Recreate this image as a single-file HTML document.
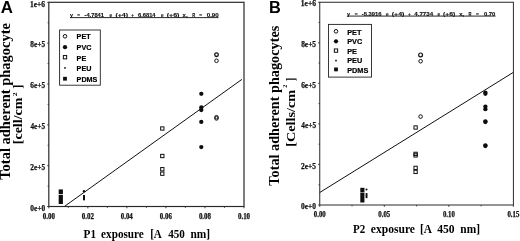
<!DOCTYPE html><html><head><meta charset="utf-8"><style>html,body{margin:0;padding:0;background:#fff;}svg{display:block;}</style></head><body>
<svg width="520" height="241" viewBox="0 0 520 241">
<rect width="520" height="241" fill="#fff"/>
<defs><filter id="b" x="0" y="0" width="1" height="1"><feGaussianBlur stdDeviation="0.4"/></filter></defs><g filter="url(#b)">
<rect x="48.8" y="2.3" width="195.2" height="204.2" fill="none" stroke="#2a2a2a" stroke-width="1.2"/>
<line x1="47.2" y1="206.5" x2="48.8" y2="206.5" stroke="#2a2a2a" stroke-width="0.9"/>
<line x1="47.6" y1="186.08" x2="48.8" y2="186.08" stroke="#2a2a2a" stroke-width="0.9"/>
<line x1="47.2" y1="165.66" x2="48.8" y2="165.66" stroke="#2a2a2a" stroke-width="0.9"/>
<line x1="47.6" y1="145.24" x2="48.8" y2="145.24" stroke="#2a2a2a" stroke-width="0.9"/>
<line x1="47.2" y1="124.82" x2="48.8" y2="124.82" stroke="#2a2a2a" stroke-width="0.9"/>
<line x1="47.6" y1="104.4" x2="48.8" y2="104.4" stroke="#2a2a2a" stroke-width="0.9"/>
<line x1="47.2" y1="83.98" x2="48.8" y2="83.98" stroke="#2a2a2a" stroke-width="0.9"/>
<line x1="47.6" y1="63.56" x2="48.8" y2="63.56" stroke="#2a2a2a" stroke-width="0.9"/>
<line x1="47.2" y1="43.14" x2="48.8" y2="43.14" stroke="#2a2a2a" stroke-width="0.9"/>
<line x1="47.6" y1="22.72" x2="48.8" y2="22.72" stroke="#2a2a2a" stroke-width="0.9"/>
<line x1="47.2" y1="2.3" x2="48.8" y2="2.3" stroke="#2a2a2a" stroke-width="0.9"/>
<text x="30.32" y="210.7" font-family='"Liberation Serif", serif' font-size="7.6" font-weight="bold" textLength="14.76" lengthAdjust="spacingAndGlyphs" fill="#111" stroke="#111" stroke-width="0.25">0e+0</text>
<text x="30.29" y="169.86" font-family='"Liberation Serif", serif' font-size="7.6" font-weight="bold" textLength="14.78" lengthAdjust="spacingAndGlyphs" fill="#111" stroke="#111" stroke-width="0.25">2e+5</text>
<text x="30.5" y="129.02" font-family='"Liberation Serif", serif' font-size="7.6" font-weight="bold" textLength="14.56" lengthAdjust="spacingAndGlyphs" fill="#111" stroke="#111" stroke-width="0.25">4e+5</text>
<text x="30.35" y="88.18" font-family='"Liberation Serif", serif' font-size="7.6" font-weight="bold" textLength="14.72" lengthAdjust="spacingAndGlyphs" fill="#111" stroke="#111" stroke-width="0.25">6e+5</text>
<text x="30.36" y="47.34" font-family='"Liberation Serif", serif' font-size="7.6" font-weight="bold" textLength="14.71" lengthAdjust="spacingAndGlyphs" fill="#111" stroke="#111" stroke-width="0.25">8e+5</text>
<text x="30" y="6.5" font-family='"Liberation Serif", serif' font-size="7.6" font-weight="bold" textLength="15.02" lengthAdjust="spacingAndGlyphs" fill="#111" stroke="#111" stroke-width="0.25">1e+6</text>
<line x1="48.8" y1="206.5" x2="48.8" y2="208.3" stroke="#2a2a2a" stroke-width="0.9"/>
<line x1="68.32" y1="206.5" x2="68.32" y2="207.8" stroke="#2a2a2a" stroke-width="0.9"/>
<line x1="87.84" y1="206.5" x2="87.84" y2="208.3" stroke="#2a2a2a" stroke-width="0.9"/>
<line x1="107.36" y1="206.5" x2="107.36" y2="207.8" stroke="#2a2a2a" stroke-width="0.9"/>
<line x1="126.88" y1="206.5" x2="126.88" y2="208.3" stroke="#2a2a2a" stroke-width="0.9"/>
<line x1="146.4" y1="206.5" x2="146.4" y2="207.8" stroke="#2a2a2a" stroke-width="0.9"/>
<line x1="165.92" y1="206.5" x2="165.92" y2="208.3" stroke="#2a2a2a" stroke-width="0.9"/>
<line x1="185.44" y1="206.5" x2="185.44" y2="207.8" stroke="#2a2a2a" stroke-width="0.9"/>
<line x1="204.96" y1="206.5" x2="204.96" y2="208.3" stroke="#2a2a2a" stroke-width="0.9"/>
<line x1="224.48" y1="206.5" x2="224.48" y2="207.8" stroke="#2a2a2a" stroke-width="0.9"/>
<line x1="244" y1="206.5" x2="244" y2="208.3" stroke="#2a2a2a" stroke-width="0.9"/>
<text x="42.74" y="218.5" font-family='"Liberation Serif", serif' font-size="7.4" font-weight="bold" textLength="12.13" lengthAdjust="spacingAndGlyphs" fill="#111" stroke="#111" stroke-width="0.25">0.00</text>
<text x="81.78" y="218.5" font-family='"Liberation Serif", serif' font-size="7.4" font-weight="bold" textLength="12.16" lengthAdjust="spacingAndGlyphs" fill="#111" stroke="#111" stroke-width="0.25">0.02</text>
<text x="120.82" y="218.5" font-family='"Liberation Serif", serif' font-size="7.4" font-weight="bold" textLength="11.99" lengthAdjust="spacingAndGlyphs" fill="#111" stroke="#111" stroke-width="0.25">0.04</text>
<text x="159.86" y="218.5" font-family='"Liberation Serif", serif' font-size="7.4" font-weight="bold" textLength="12.06" lengthAdjust="spacingAndGlyphs" fill="#111" stroke="#111" stroke-width="0.25">0.06</text>
<text x="198.9" y="218.5" font-family='"Liberation Serif", serif' font-size="7.4" font-weight="bold" textLength="12.09" lengthAdjust="spacingAndGlyphs" fill="#111" stroke="#111" stroke-width="0.25">0.08</text>
<text x="237.94" y="218.5" font-family='"Liberation Serif", serif' font-size="7.4" font-weight="bold" textLength="12.13" lengthAdjust="spacingAndGlyphs" fill="#111" stroke="#111" stroke-width="0.25">0.10</text>
<text x="0.78" y="12.5" font-family='"Liberation Sans", sans-serif' font-size="17" font-weight="bold" textLength="12.16" lengthAdjust="spacingAndGlyphs" >A</text>
<text transform="translate(10,179.7) rotate(-90)" x="0" y="0" font-family='"Liberation Serif", serif' font-size="14" font-weight="bold" textLength="156.6" lengthAdjust="spacingAndGlyphs">Total adherent phagocyte</text>
<text transform="translate(21.6,0) rotate(-90)" x="-144.24" y="0" font-family='"Liberation Serif", serif' font-size="12" font-weight="bold" textLength="46.68" lengthAdjust="spacingAndGlyphs">[cell/cm</text>
<text transform="translate(16.9,0) rotate(-90)" x="-96.32" y="0" font-family='"Liberation Serif", serif' font-size="6" font-weight="bold" textLength="3.86" lengthAdjust="spacingAndGlyphs">2</text>
<text transform="translate(21.6,0) rotate(-90)" x="-88.74" y="0" font-family='"Liberation Serif", serif' font-size="12" font-weight="bold" textLength="4.04" lengthAdjust="spacingAndGlyphs">]</text>
<text x="83.61" y="238" font-family='"Liberation Serif", serif' font-size="13" font-weight="bold" textLength="12.47" lengthAdjust="spacingAndGlyphs" >P1</text>
<text x="101.12" y="238" font-family='"Liberation Serif", serif' font-size="13" font-weight="bold" textLength="42.67" lengthAdjust="spacingAndGlyphs" >exposure</text>
<text x="150.18" y="238" font-family='"Liberation Serif", serif' font-size="13" font-weight="bold" textLength="11.6" lengthAdjust="spacingAndGlyphs" >[A</text>
<text x="168.25" y="238" font-family='"Liberation Serif", serif' font-size="13" font-weight="bold" textLength="16.68" lengthAdjust="spacingAndGlyphs" >450</text>
<text x="190.39" y="238" font-family='"Liberation Serif", serif' font-size="13" font-weight="bold" textLength="19.65" lengthAdjust="spacingAndGlyphs" >nm]</text>
<text x="70.1" y="16.9" font-family='"Liberation Sans", sans-serif' font-size="5.9" font-weight="bold" textLength="3" lengthAdjust="spacingAndGlyphs" fill="#111" stroke="#111" stroke-width="0.15">y</text>
<text x="77.3" y="16.9" font-family='"Liberation Sans", sans-serif' font-size="5.9" font-weight="bold" textLength="2.8" lengthAdjust="spacingAndGlyphs" fill="#111" stroke="#111" stroke-width="0.15">=</text>
<text x="84.6" y="16.9" font-family='"Liberation Sans", sans-serif' font-size="5.9" font-weight="bold" textLength="19.3" lengthAdjust="spacingAndGlyphs" fill="#111" stroke="#111" stroke-width="0.15">-4.7841</text>
<text x="109.6" y="16.9" font-family='"Liberation Sans", sans-serif' font-size="5.9" font-weight="bold" textLength="2.6" lengthAdjust="spacingAndGlyphs" fill="#111" stroke="#111" stroke-width="0.15">e</text>
<text x="115.4" y="16.9" font-family='"Liberation Sans", sans-serif' font-size="5.9" font-weight="bold" textLength="12.7" lengthAdjust="spacingAndGlyphs" fill="#111" stroke="#111" stroke-width="0.15">(+4)</text>
<text x="131.3" y="16.9" font-family='"Liberation Sans", sans-serif' font-size="5.9" font-weight="bold" textLength="2.7" lengthAdjust="spacingAndGlyphs" fill="#111" stroke="#111" stroke-width="0.15">+</text>
<text x="138" y="16.9" font-family='"Liberation Sans", sans-serif' font-size="5.9" font-weight="bold" textLength="17.5" lengthAdjust="spacingAndGlyphs" fill="#111" stroke="#111" stroke-width="0.15">6.6814</text>
<text x="161.1" y="16.9" font-family='"Liberation Sans", sans-serif' font-size="5.9" font-weight="bold" textLength="2.6" lengthAdjust="spacingAndGlyphs" fill="#111" stroke="#111" stroke-width="0.15">e</text>
<text x="166.7" y="16.9" font-family='"Liberation Sans", sans-serif' font-size="5.9" font-weight="bold" textLength="12.8" lengthAdjust="spacingAndGlyphs" fill="#111" stroke="#111" stroke-width="0.15">(+6)</text>
<text x="182.6" y="16.9" font-family='"Liberation Sans", sans-serif' font-size="5.9" font-weight="bold" textLength="5" lengthAdjust="spacingAndGlyphs" fill="#111" stroke="#111" stroke-width="0.15">x,</text>
<text x="192.3" y="16.9" font-family='"Liberation Sans", sans-serif' font-size="5.9" font-weight="bold" textLength="3" lengthAdjust="spacingAndGlyphs" fill="#111" stroke="#111" stroke-width="0.15">R</text>
<text x="199.2" y="16.9" font-family='"Liberation Sans", sans-serif' font-size="5.9" font-weight="bold" textLength="2.8" lengthAdjust="spacingAndGlyphs" fill="#111" stroke="#111" stroke-width="0.15">=</text>
<text x="206.7" y="16.9" font-family='"Liberation Sans", sans-serif' font-size="5.9" font-weight="bold" textLength="12.1" lengthAdjust="spacingAndGlyphs" fill="#111" stroke="#111" stroke-width="0.15">0.90</text>
<line x1="70" y1="17.6" x2="218.6" y2="17.6" stroke="#111" stroke-width="0.9"/>
<rect x="59.6" y="30" width="40.7" height="55.2" fill="none" stroke="#222" stroke-width="0.9"/>
<circle cx="65" cy="36.3" r="1.8" fill="none" stroke="#111" stroke-width="1.0"/>
<text x="76.6" y="39.49" font-family='"Liberation Sans", sans-serif' font-size="7.2" font-weight="bold" stroke="#000" stroke-width="0.2">PET</text>
<circle cx="65" cy="47.2" r="2.15" fill="#111"/>
<text x="76.6" y="49.79" font-family='"Liberation Sans", sans-serif' font-size="7.2" font-weight="bold" stroke="#000" stroke-width="0.2">PVC</text>
<rect x="63.35" y="55.55" width="3.3" height="3.3" fill="none" stroke="#111" stroke-width="1.0"/>
<text x="76.6" y="60.59" font-family='"Liberation Sans", sans-serif' font-size="7.2" font-weight="bold" stroke="#000" stroke-width="0.2">PE</text>
<rect x="64.2" y="67.1" width="1.6" height="1.6" fill="#111"/>
<text x="76.6" y="71.09" font-family='"Liberation Sans", sans-serif' font-size="7.2" font-weight="bold" stroke="#000" stroke-width="0.2">PEU</text>
<rect x="63.1" y="76.85" width="3.8" height="3.8" fill="#111"/>
<text x="76.6" y="81.79" font-family='"Liberation Sans", sans-serif' font-size="7.2" font-weight="bold" stroke="#000" stroke-width="0.2">PDMS</text>
<line x1="64.9" y1="206.1" x2="241.9" y2="79.4" stroke="#111" stroke-width="1"/>
<rect x="58.7" y="189.4" width="4.2" height="4.6" fill="#111"/>
<rect x="58.7" y="194.8" width="4.2" height="9.2" fill="#111"/>
<circle cx="84" cy="191.2" r="1.2" fill="#111"/>
<rect x="83" y="195" width="2" height="5.3" fill="#111"/>
<rect x="160.65" y="126.85" width="3.3" height="3.3" fill="none" stroke="#111" stroke-width="1.0"/>
<rect x="160.65" y="154.35" width="3.3" height="3.3" fill="none" stroke="#111" stroke-width="1.0"/>
<rect x="160.65" y="167.55" width="3.3" height="3.3" fill="none" stroke="#111" stroke-width="1.0"/>
<rect x="160.65" y="172.05" width="3.3" height="3.3" fill="none" stroke="#111" stroke-width="1.0"/>
<circle cx="201.3" cy="93.8" r="2.15" fill="#111"/>
<circle cx="201.3" cy="107.5" r="2.15" fill="#111"/>
<circle cx="201.3" cy="110" r="2.15" fill="#111"/>
<circle cx="201.3" cy="121.9" r="2.15" fill="#111"/>
<circle cx="201.3" cy="147.1" r="2.15" fill="#111"/>
<circle cx="216.5" cy="54.7" r="1.8" fill="none" stroke="#111" stroke-width="1.3"/>
<circle cx="216.5" cy="60.8" r="1.8" fill="none" stroke="#111" stroke-width="1.0"/>
<circle cx="216.5" cy="117.2" r="1.8" fill="none" stroke="#111" stroke-width="1.0"/>
<circle cx="216.5" cy="118.4" r="1.8" fill="none" stroke="#111" stroke-width="1.0"/>
<rect x="319.75" y="2.25" width="193.65" height="202.75" fill="none" stroke="#2a2a2a" stroke-width="1.0"/>
<line x1="318.15" y1="205" x2="319.75" y2="205" stroke="#2a2a2a" stroke-width="0.9"/>
<line x1="318.55" y1="184.72" x2="319.75" y2="184.72" stroke="#2a2a2a" stroke-width="0.9"/>
<line x1="318.15" y1="164.45" x2="319.75" y2="164.45" stroke="#2a2a2a" stroke-width="0.9"/>
<line x1="318.55" y1="144.18" x2="319.75" y2="144.18" stroke="#2a2a2a" stroke-width="0.9"/>
<line x1="318.15" y1="123.9" x2="319.75" y2="123.9" stroke="#2a2a2a" stroke-width="0.9"/>
<line x1="318.55" y1="103.62" x2="319.75" y2="103.62" stroke="#2a2a2a" stroke-width="0.9"/>
<line x1="318.15" y1="83.35" x2="319.75" y2="83.35" stroke="#2a2a2a" stroke-width="0.9"/>
<line x1="318.55" y1="63.07" x2="319.75" y2="63.07" stroke="#2a2a2a" stroke-width="0.9"/>
<line x1="318.15" y1="42.8" x2="319.75" y2="42.8" stroke="#2a2a2a" stroke-width="0.9"/>
<line x1="318.55" y1="22.53" x2="319.75" y2="22.53" stroke="#2a2a2a" stroke-width="0.9"/>
<line x1="318.15" y1="2.25" x2="319.75" y2="2.25" stroke="#2a2a2a" stroke-width="0.9"/>
<text x="301.12" y="209.2" font-family='"Liberation Serif", serif' font-size="7.6" font-weight="bold" textLength="14.97" lengthAdjust="spacingAndGlyphs" fill="#111" stroke="#111" stroke-width="0.25">0e+0</text>
<text x="301.09" y="168.65" font-family='"Liberation Serif", serif' font-size="7.6" font-weight="bold" textLength="14.99" lengthAdjust="spacingAndGlyphs" fill="#111" stroke="#111" stroke-width="0.25">2e+5</text>
<text x="301.3" y="128.1" font-family='"Liberation Serif", serif' font-size="7.6" font-weight="bold" textLength="14.77" lengthAdjust="spacingAndGlyphs" fill="#111" stroke="#111" stroke-width="0.25">4e+5</text>
<text x="301.15" y="87.55" font-family='"Liberation Serif", serif' font-size="7.6" font-weight="bold" textLength="14.92" lengthAdjust="spacingAndGlyphs" fill="#111" stroke="#111" stroke-width="0.25">6e+5</text>
<text x="301.15" y="47" font-family='"Liberation Serif", serif' font-size="7.6" font-weight="bold" textLength="14.92" lengthAdjust="spacingAndGlyphs" fill="#111" stroke="#111" stroke-width="0.25">8e+5</text>
<text x="300.79" y="6.45" font-family='"Liberation Serif", serif' font-size="7.6" font-weight="bold" textLength="15.23" lengthAdjust="spacingAndGlyphs" fill="#111" stroke="#111" stroke-width="0.25">1e+6</text>
<line x1="319.75" y1="205" x2="319.75" y2="206.8" stroke="#2a2a2a" stroke-width="0.9"/>
<line x1="352.02" y1="205" x2="352.02" y2="206.3" stroke="#2a2a2a" stroke-width="0.9"/>
<line x1="384.3" y1="205" x2="384.3" y2="206.8" stroke="#2a2a2a" stroke-width="0.9"/>
<line x1="416.57" y1="205" x2="416.57" y2="206.3" stroke="#2a2a2a" stroke-width="0.9"/>
<line x1="448.85" y1="205" x2="448.85" y2="206.8" stroke="#2a2a2a" stroke-width="0.9"/>
<line x1="481.12" y1="205" x2="481.12" y2="206.3" stroke="#2a2a2a" stroke-width="0.9"/>
<line x1="513.4" y1="205" x2="513.4" y2="206.8" stroke="#2a2a2a" stroke-width="0.9"/>
<text x="313.79" y="217.1" font-family='"Liberation Serif", serif' font-size="7.4" font-weight="bold" textLength="11.92" lengthAdjust="spacingAndGlyphs" fill="#111" stroke="#111" stroke-width="0.25">0.00</text>
<text x="378.34" y="217.1" font-family='"Liberation Serif", serif' font-size="7.4" font-weight="bold" textLength="11.91" lengthAdjust="spacingAndGlyphs" fill="#111" stroke="#111" stroke-width="0.25">0.05</text>
<text x="442.89" y="217.1" font-family='"Liberation Serif", serif' font-size="7.4" font-weight="bold" textLength="11.92" lengthAdjust="spacingAndGlyphs" fill="#111" stroke="#111" stroke-width="0.25">0.10</text>
<text x="507.44" y="217.1" font-family='"Liberation Serif", serif' font-size="7.4" font-weight="bold" textLength="11.91" lengthAdjust="spacingAndGlyphs" fill="#111" stroke="#111" stroke-width="0.25">0.15</text>
<text x="269" y="12.5" font-family='"Liberation Sans", sans-serif' font-size="17" font-weight="bold" textLength="11.84" lengthAdjust="spacingAndGlyphs" >B</text>
<text transform="translate(279.1,185.7) rotate(-90)" x="0" y="0" font-family='"Liberation Serif", serif' font-size="14" font-weight="bold" textLength="160" lengthAdjust="spacingAndGlyphs">Total adherent phagocytes</text>
<text transform="translate(294.7,0) rotate(-90)" x="-146.76" y="0" font-family='"Liberation Serif", serif' font-size="12.5" font-weight="bold" textLength="57" lengthAdjust="spacingAndGlyphs">[Cells/cm</text>
<text transform="translate(287.2,0) rotate(-90)" x="-87.76" y="0" font-family='"Liberation Serif", serif' font-size="6" font-weight="bold" textLength="3.13" lengthAdjust="spacingAndGlyphs">2</text>
<text transform="translate(294.7,0) rotate(-90)" x="-81.19" y="0" font-family='"Liberation Serif", serif' font-size="12.5" font-weight="bold" textLength="3.59" lengthAdjust="spacingAndGlyphs">]</text>
<text x="353.11" y="233.2" font-family='"Liberation Serif", serif' font-size="13" font-weight="bold" textLength="12.26" lengthAdjust="spacingAndGlyphs" >P2</text>
<text x="370.81" y="233.2" font-family='"Liberation Serif", serif' font-size="13" font-weight="bold" textLength="44.19" lengthAdjust="spacingAndGlyphs" >exposure</text>
<text x="420.06" y="233.2" font-family='"Liberation Serif", serif' font-size="13" font-weight="bold" textLength="11.92" lengthAdjust="spacingAndGlyphs" >[A</text>
<text x="437.14" y="233.2" font-family='"Liberation Serif", serif' font-size="13" font-weight="bold" textLength="17.4" lengthAdjust="spacingAndGlyphs" >450</text>
<text x="460.29" y="233.2" font-family='"Liberation Serif", serif' font-size="13" font-weight="bold" textLength="19.65" lengthAdjust="spacingAndGlyphs" >nm]</text>
<text x="347" y="15.5" font-family='"Liberation Sans", sans-serif' font-size="5.9" font-weight="bold" textLength="3" lengthAdjust="spacingAndGlyphs" fill="#111" stroke="#111" stroke-width="0.15">y</text>
<text x="354.8" y="15.5" font-family='"Liberation Sans", sans-serif' font-size="5.9" font-weight="bold" textLength="2.8" lengthAdjust="spacingAndGlyphs" fill="#111" stroke="#111" stroke-width="0.15">=</text>
<text x="361.7" y="15.5" font-family='"Liberation Sans", sans-serif' font-size="5.9" font-weight="bold" textLength="19.8" lengthAdjust="spacingAndGlyphs" fill="#111" stroke="#111" stroke-width="0.15">-5.3916</text>
<text x="386.1" y="15.5" font-family='"Liberation Sans", sans-serif' font-size="5.9" font-weight="bold" textLength="2.6" lengthAdjust="spacingAndGlyphs" fill="#111" stroke="#111" stroke-width="0.15">e</text>
<text x="391.7" y="15.5" font-family='"Liberation Sans", sans-serif' font-size="5.9" font-weight="bold" textLength="12.7" lengthAdjust="spacingAndGlyphs" fill="#111" stroke="#111" stroke-width="0.15">(+4)</text>
<text x="408" y="15.5" font-family='"Liberation Sans", sans-serif' font-size="5.9" font-weight="bold" textLength="2.7" lengthAdjust="spacingAndGlyphs" fill="#111" stroke="#111" stroke-width="0.15">+</text>
<text x="414.3" y="15.5" font-family='"Liberation Sans", sans-serif' font-size="5.9" font-weight="bold" textLength="18.8" lengthAdjust="spacingAndGlyphs" fill="#111" stroke="#111" stroke-width="0.15">4.7734</text>
<text x="437.4" y="15.5" font-family='"Liberation Sans", sans-serif' font-size="5.9" font-weight="bold" textLength="2.6" lengthAdjust="spacingAndGlyphs" fill="#111" stroke="#111" stroke-width="0.15">e</text>
<text x="443" y="15.5" font-family='"Liberation Sans", sans-serif' font-size="5.9" font-weight="bold" textLength="12.2" lengthAdjust="spacingAndGlyphs" fill="#111" stroke="#111" stroke-width="0.15">(+6)</text>
<text x="459.3" y="15.5" font-family='"Liberation Sans", sans-serif' font-size="5.9" font-weight="bold" textLength="5" lengthAdjust="spacingAndGlyphs" fill="#111" stroke="#111" stroke-width="0.15">x,</text>
<text x="468.6" y="15.5" font-family='"Liberation Sans", sans-serif' font-size="5.9" font-weight="bold" textLength="3" lengthAdjust="spacingAndGlyphs" fill="#111" stroke="#111" stroke-width="0.15">R</text>
<text x="476.1" y="15.5" font-family='"Liberation Sans", sans-serif' font-size="5.9" font-weight="bold" textLength="2.8" lengthAdjust="spacingAndGlyphs" fill="#111" stroke="#111" stroke-width="0.15">=</text>
<text x="483.9" y="15.5" font-family='"Liberation Sans", sans-serif' font-size="5.9" font-weight="bold" textLength="11.4" lengthAdjust="spacingAndGlyphs" fill="#111" stroke="#111" stroke-width="0.15">0.70</text>
<line x1="346.9" y1="16.1" x2="495.5" y2="16.1" stroke="#111" stroke-width="0.9"/>
<rect x="328.5" y="24.4" width="43" height="52.7" fill="none" stroke="#222" stroke-width="0.9"/>
<circle cx="336" cy="31.3" r="1.8" fill="none" stroke="#111" stroke-width="1.0"/>
<text x="347.2" y="34.83" font-family='"Liberation Sans", sans-serif' font-size="7.3" font-weight="bold" stroke="#000" stroke-width="0.2">PET</text>
<circle cx="336" cy="41.3" r="2.15" fill="#111"/>
<text x="347.2" y="44.23" font-family='"Liberation Sans", sans-serif' font-size="7.3" font-weight="bold" stroke="#000" stroke-width="0.2">PVC</text>
<rect x="334.35" y="48.95" width="3.3" height="3.3" fill="none" stroke="#111" stroke-width="1.0"/>
<text x="347.2" y="53.83" font-family='"Liberation Sans", sans-serif' font-size="7.3" font-weight="bold" stroke="#000" stroke-width="0.2">PE</text>
<rect x="335.2" y="59.8" width="1.6" height="1.6" fill="#111"/>
<text x="347.2" y="63.43" font-family='"Liberation Sans", sans-serif' font-size="7.3" font-weight="bold" stroke="#000" stroke-width="0.2">PEU</text>
<rect x="334.1" y="67.5" width="3.8" height="3.8" fill="#111"/>
<text x="347.2" y="72.83" font-family='"Liberation Sans", sans-serif' font-size="7.3" font-weight="bold" stroke="#000" stroke-width="0.2">PDMS</text>
<line x1="319.75" y1="192.5" x2="513.1" y2="72.5" stroke="#111" stroke-width="1"/>
<rect x="360.3" y="187.8" width="4.1" height="4.6" fill="#111"/>
<rect x="360.3" y="192.8" width="4.1" height="9.7" fill="#111"/>
<circle cx="366.5" cy="189.4" r="1.0" fill="#111"/>
<rect x="365.6" y="193.1" width="1.9" height="5" fill="#111"/>
<rect x="413.95" y="125.85" width="3.3" height="3.3" fill="none" stroke="#111" stroke-width="1.0"/>
<rect x="413.95" y="152.25" width="3.3" height="3.3" fill="none" stroke="#111" stroke-width="1.0"/>
<rect x="413.95" y="153.75" width="3.3" height="3.3" fill="none" stroke="#111" stroke-width="1.0"/>
<rect x="413.95" y="166.25" width="3.3" height="3.3" fill="none" stroke="#111" stroke-width="1.0"/>
<rect x="413.95" y="170.25" width="3.3" height="3.3" fill="none" stroke="#111" stroke-width="1.0"/>
<circle cx="485.4" cy="92.6" r="2.15" fill="#111"/>
<circle cx="485.4" cy="93.8" r="2.15" fill="#111"/>
<circle cx="485.4" cy="106.6" r="2.15" fill="#111"/>
<circle cx="485.4" cy="109.2" r="2.15" fill="#111"/>
<circle cx="485.4" cy="121.3" r="2.15" fill="#111"/>
<circle cx="485.4" cy="122" r="2.15" fill="#111"/>
<circle cx="485.4" cy="145.3" r="2.15" fill="#111"/>
<circle cx="485.4" cy="146" r="2.15" fill="#111"/>
<circle cx="420.6" cy="54.9" r="1.9" fill="none" stroke="#111" stroke-width="1.2"/>
<circle cx="420.6" cy="61.2" r="1.8" fill="none" stroke="#111" stroke-width="1.0"/>
<circle cx="420.6" cy="116.6" r="1.8" fill="none" stroke="#111" stroke-width="1.0"/>
</g>
</svg></body></html>
